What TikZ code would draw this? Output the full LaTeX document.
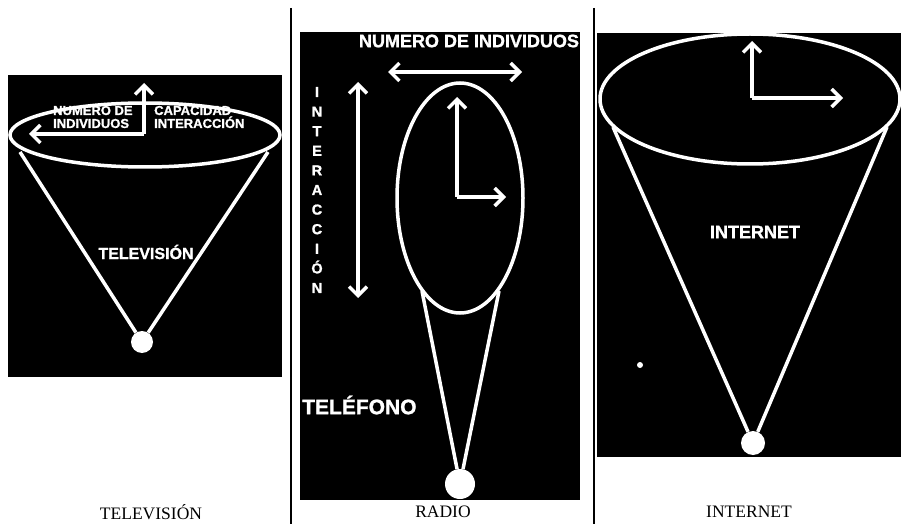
\documentclass[tikz,border=0pt]{standalone}
\usepackage{fontspec}
\setmainfont{Liberation Serif}
\setsansfont{Liberation Sans}
\newfontfamily\heavyfont[FakeBold=1.2]{Liberation Sans Bold}
\usetikzlibrary{shapes.geometric,arrows.meta,positioning}

\begin{document}
\begin{tikzpicture}[x=1pt, y=-1pt,
    panel/.style={fill=black},
    rim/.style={ellipse, draw=white, line width=3.5pt, inner sep=0pt},
    ball/.style={circle, fill=white, inner sep=0pt},
    edge_line/.style={draw=white, line width=3.5pt},
    arr/.style={draw=white, line width=3.5pt, -{Straight Barb[length=9pt,width=18pt]}},
    darr/.style={draw=white, line width=3.5pt, {Straight Barb[length=9pt,width=18pt]}-{Straight Barb[length=9pt,width=18pt]}},
    lbl/.style={text=white, inner sep=0pt},
    caption/.style={font=\fontsize{17.5}{17.5}\selectfont, inner sep=0pt}
]
\useasboundingbox[fill=white] (0,0) rectangle (903,524);

% Panels
\fill[panel] (8,75) rectangle (282,377);
\fill[panel] (300,32) rectangle (580,500);
\fill[panel] (597,33) rectangle (901,457);
\draw[line width=1.5pt] (291,8) -- (291,524);
\draw[line width=1.5pt] (594,8) -- (594,524);

% Television
\node[rim, minimum width=270pt, minimum height=64pt] (tvrim) at (145,135) {};
\node[ball, minimum size=22pt] (tvball) at (142,342) {};
\coordinate (tvl) at (20,152);
\coordinate (tvr) at (268,152);
\coordinate (tvc) at (144,134);
\coordinate (tvup) at (144,83);
\coordinate (tvleft) at (29,134);
\path[edge_line] (tvl) -- (tvball);
\path[edge_line] (tvr) -- (tvball);
\draw[arr] (tvc) -- (tvup);
\draw[arr] (tvc) -- (tvleft);
\node[lbl, anchor=west, align=left, font=\heavyfont\fontsize{13}{13}\selectfont] (tvnum) at (53,117) {NUMERO DE\\INDIVIDUOS};
\node[lbl, anchor=west, align=left, font=\heavyfont\fontsize{13}{13}\selectfont] (tvcap) at (154,117) {CAPACIDAD\\INTERACCIÓN};
\node[lbl, font=\heavyfont\fontsize{16}{16}\selectfont] (tvname) at (146,252) {TELEVISIÓN};

% Radio
\node[rim, minimum width=126pt, minimum height=230pt] (radrim) at (460,198) {};
\node[ball, minimum size=30pt] (radball) at (460,484) {};
\coordinate (radl) at (422,291);
\coordinate (radr) at (499,291);
\coordinate (radc) at (457,197);
\coordinate (radup) at (457,97);
\coordinate (radright) at (506,197);
\coordinate (hl) at (388,72);
\coordinate (hr) at (522,72);
\coordinate (vt) at (358,82);
\coordinate (vb) at (358,298);
\path[edge_line] (radl) -- (radball);
\path[edge_line] (radr) -- (radball);
\draw[arr] (radc) -- (radup);
\draw[arr] (radc) -- (radright);
\draw[darr] (hl) -- (hr);
\draw[darr] (vt) -- (vb);
\node[lbl, font=\heavyfont\fontsize{18}{18}\selectfont] (radnum) at (469,41) {NUMERO DE INDIVIDUOS};
\node[lbl, align=center, font=\heavyfont\fontsize{14.5}{19.6}\selectfont] (radint) at (317,190) {I\\N\\T\\E\\R\\A\\C\\C\\I\\Ó\\N};
\node[lbl, anchor=west, font=\heavyfont\fontsize{21}{21}\selectfont] (radtel) at (302,405) {TELÉFONO};

% Internet
\node[rim, minimum width=300pt, minimum height=130pt] (netrim) at (750,99) {};
\node[ball, minimum size=24pt] (netball) at (753,443) {};
\node[ball, minimum size=6pt] (netdot) at (640,365) {};
\coordinate (netl) at (613,127);
\coordinate (netr) at (887,127);
\coordinate (netc) at (752,98);
\coordinate (netup) at (752,41);
\coordinate (netright) at (843,98);
\path[edge_line] (netl) -- (netball);
\path[edge_line] (netr) -- (netball);
\draw[arr] (netc) -- (netup);
\draw[arr] (netc) -- (netright);
\node[lbl, font=\heavyfont\fontsize{18}{18}\selectfont] (netname) at (755,232) {INTERNET};

% Captions
\node[caption] (captv) at (151,512) {TELEVISIÓN};
\node[caption] (caprad) at (443,512) {RADIO};
\node[caption] (capnet) at (749,512) {INTERNET};
\end{tikzpicture}
\end{document}
